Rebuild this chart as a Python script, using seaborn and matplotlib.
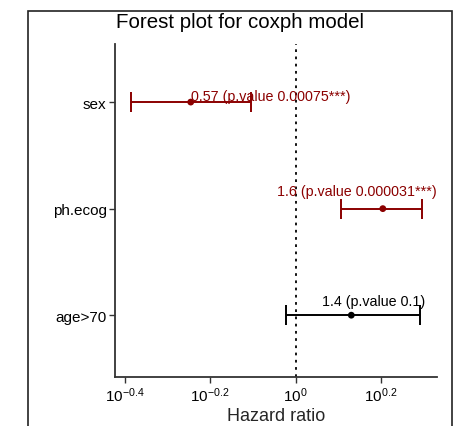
import numpy as np
import pandas as pd
import matplotlib
matplotlib.use("Agg")
import matplotlib.pyplot as plt
import seaborn as sns
from matplotlib.patches import Rectangle

# data
variables = ["sex", "ph.ecog", "age>70"]
hazard_ratio = [0.568, 1.60, 1.35]
ci_lower = [0.411, 1.28, 0.948]
ci_upper = [0.785, 1.98, 1.95]
labels = ["0.57 (p.value 0.00075***)", "1.6 (p.value 0.000031***)", "1.4 (p.value 0.1)"]
significant = [True, True, False]
xticks_exp = [-0.4, -0.2, 0.0, 0.2]

sns.set_theme(style="ticks")
plt.rcParams['font.family'] = ['Liberation Sans', 'DejaVu Sans']
plt.rcParams['mathtext.fontset'] = 'custom'
plt.rcParams['mathtext.rm'] = 'Liberation Sans'
plt.rcParams['mathtext.it'] = 'Liberation Sans'
plt.rcParams['mathtext.default'] = 'regular'

df = pd.DataFrame({"var": variables, "hr": hazard_ratio, "lo": ci_lower,
                   "hi": ci_upper, "label": labels, "sig": significant})
df["ypos"] = np.arange(len(df))
df["color"] = np.where(df["sig"], "#8B0000", "#000000")

fig = plt.figure(figsize=(4.62, 4.27), dpi=100)
W, H = 462, 427
ax = fig.add_axes([115 / W, 1 - 378 / H, (437 - 115) / W, (378 - 45) / H])

# frame
fig.patches.append(Rectangle((28 / W, -0.05), (452 - 28) / W, 1.05 - 12 / H,
                             transform=fig.transFigure, fill=False,
                             edgecolor="#222222", linewidth=1.2))

ax.set_xscale("log")
for _, r in df.iterrows():
    ax.errorbar(r["hr"], r["ypos"], xerr=[[r["hr"] - r["lo"]], [r["hi"] - r["hr"]]],
                fmt="none", ecolor=r["color"], elinewidth=1.4, capsize=7,
                capthick=1.4, zorder=2)
sns.scatterplot(data=df, x="hr", y="ypos", hue="var",
                palette=dict(zip(df["var"], df["color"])), s=24,
                edgecolor="none", legend=False, ax=ax, zorder=3)

ax.axvline(1.0, color="black", linestyle=(0, (1.5, 2.5)), linewidth=1.3, zorder=1)

# annotations
xmin, xmax = 10 ** -0.423, 10 ** 0.331
for _, r in df.iterrows():
    if r["var"] == "sex":
        ax.annotate(r["label"], (r["hr"], r["ypos"]), xytext=(0, 1.5),
                    textcoords="offset points", ha="left", va="baseline",
                    color=r["color"], fontsize=10.3)
    elif r["var"] == "ph.ecog":
        ax.annotate(r["label"], (xmax, r["ypos"]), xytext=(0, 8),
                    textcoords="offset points", ha="right", va="bottom",
                    color=r["color"], fontsize=10.3)
    else:
        ax.annotate(r["label"], (r["hi"], r["ypos"]), xytext=(4, 5),
                    textcoords="offset points", ha="right", va="bottom",
                    color=r["color"], fontsize=10.3)

ax.set_xlim(xmin, xmax)
ax.set_ylim(2.58, -0.545)
ax.set_yticks(df["ypos"])
ax.set_yticklabels(df["var"], fontsize=11, color="black")
ax.set_xticks([10 ** e for e in xticks_exp])
ax.set_xticklabels([f"$10^{{{e:g}}}$" for e in xticks_exp], fontsize=11, color="black")
ax.xaxis.set_minor_locator(matplotlib.ticker.NullLocator())
ax.set_xlabel("Hazard ratio", fontsize=13, labelpad=2)
ax.set_ylabel("")
for s in ["top", "right"]:
    ax.spines[s].set_visible(False)
for s in ["left", "bottom"]:
    ax.spines[s].set_color("#333333")
    ax.spines[s].set_linewidth(1.3)
ax.tick_params(axis="both", length=4, width=1, color="#333333", pad=2)

fig.text(240 / W, 1 - 23 / H, "Forest plot for coxph model", ha="center",
         va="center", fontsize=14.8, color="black")

fig.savefig("out.png", dpi=100)
